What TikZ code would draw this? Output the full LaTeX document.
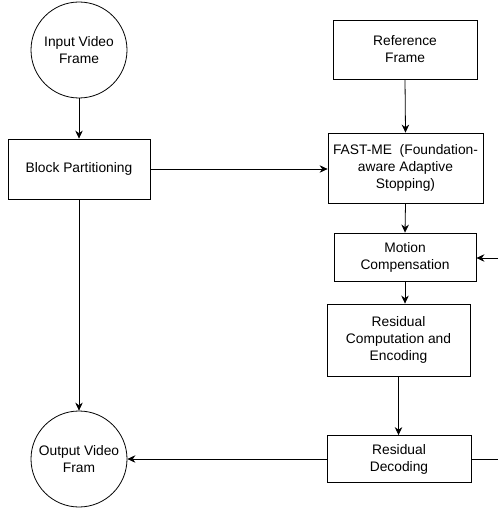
\documentclass[tikz,border=0pt]{standalone}
\usepackage{fontspec}
\setmainfont{Liberation Sans}
\usetikzlibrary{arrows.meta}
\begin{document}
\begin{tikzpicture}[x=1pt,y=-1pt,
  every node/.style={font=\fontsize{13.8}{17}\selectfont, align=center, draw=black, line width=0.8pt, inner sep=0pt},
  boxnode/.style={rectangle},
  circnode/.style={circle, minimum size=96pt},
  link/.style={draw=black, line width=0.8pt, -{Stealth[length=8pt,width=7.5pt]}},
  plain/.style={draw=black, line width=0.8pt}
]
\useasboundingbox (0,0) rectangle (498,510);
\node[circnode] (in) at (79,50) {Input Video\\Frame};
\node[boxnode, minimum width=142pt, minimum height=60pt] (bp) at (79,169) {Block Partitioning};
\node[boxnode, minimum width=144pt, minimum height=59pt] (ref) at (405,49.5) {Reference\\Frame};
\node[boxnode, minimum width=155pt, minimum height=70pt] (fast) at (405.5,168) {FAST-ME\ \ (Foundation-\\aware Adaptive\\Stopping)};
\node[boxnode, minimum width=142pt, minimum height=48pt] (mc) at (405,257) {Motion\\Compensation};
\node[boxnode, minimum width=143pt, minimum height=72pt] (rc) at (398.5,340) {Residual\\Computation and\\Encoding};
\node[boxnode, minimum width=144pt, minimum height=47pt] (rd) at (399,459) {Residual\\Decoding};
\node[circnode] (out) at (79,459) {Output Video\\Fram};
\coordinate (e1) at (498,258);
\coordinate (e2) at (498,459);
\draw[link] (in) -- (bp);
\draw[link] (bp.east) -- (bp.east -| fast.west);
\draw[link] (ref.south) -- (fast.north);
\draw[link] (fast.south) -- (mc.north);
\draw[link] (e1) -- (e1 -| mc.east);
\draw[link] (mc.south) -- (mc.south |- rc.north);
\draw[link] (rc.south) -- (rc.south |- rd.north);
\draw[link] (bp.south) -- (out.north);
\draw[link] (rd.west) -- (out.east);
\draw[plain] (rd.east) -- (e2);
\end{tikzpicture}
\end{document}
